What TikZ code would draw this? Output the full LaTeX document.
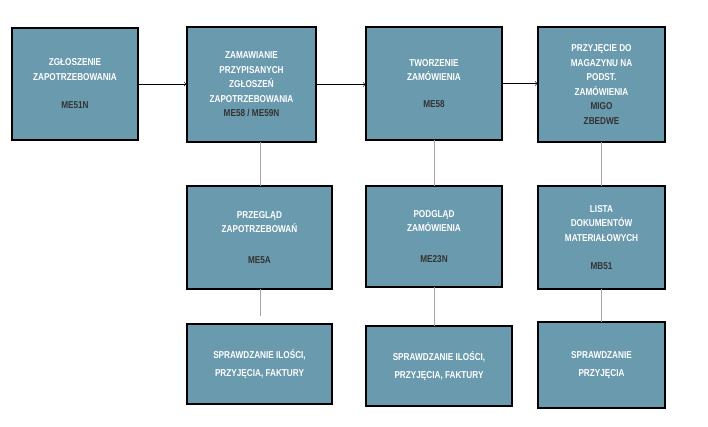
\documentclass[tikz,border=0pt]{standalone}
\usepackage{fontspec}
\setmainfont{Liberation Sans}[FakeStretch=0.82]
\begin{document}
\begin{tikzpicture}[x=1pt,y=-1pt,
 bx/.style={draw=black,line width=1.4pt,fill=boxc,inner sep=0pt,align=center,text=white,font=\bfseries\fontsize{10}{14.5}\selectfont},
 ln/.style={draw=gray!70,line width=0.8pt}]
\definecolor{boxc}{HTML}{6A9AAE}
\useasboundingbox (0,0) rectangle (708,426);
\fill[white] (0,0) rectangle (708,426);
\newcommand\bxat[6]{\node[bx,minimum width=#4-#2,minimum height=#5-#3] (#1) at ({(#2+#4)/2},{(#3+#5)/2}) {#6};}
\bxat{a}{12}{28}{138}{140}{ZGŁOSZENIE\\ZAPOTRZEBOWANIA\\[14pt]\textcolor{black!80}{ME51N}}
\bxat{b}{187}{27}{316}{142}{ZAMAWIANIE\\PRZYPISANYCH\\ZGŁOSZEŃ\\ZAPOTRZEBOWANIA\\\textcolor{black!80}{ME58 / ME59N}}
\bxat{c}{366}{27}{502}{140}{TWORZENIE\\ZAMÓWIENIA\\[12pt]\textcolor{black!80}{ME58}}
\bxat{d}{538}{27}{665}{142}{PRZYJĘCIE DO\\MAGAZYNU NA\\PODST.\\ZAMÓWIENIA\\\textcolor{black!80}{MIGO}\\\textcolor{black!80}{ZBEDWE}}
\bxat{e}{187}{186}{332}{289}{PRZEGLĄD\\ZAPOTRZEBOWAŃ\\[16pt]\textcolor{black!80}{ME5A}}
\bxat{f}{366}{186}{502}{287}{PODGLĄD\\ZAMÓWIENIA\\[16pt]\textcolor{black!80}{ME23N}}
\bxat{g}{538}{186}{665}{289}{LISTA\\DOKUMENTÓW\\MATERIAŁOWYCH\\[14pt]\textcolor{black!80}{MB51}}
\bxat{h}{187}{324}{332}{404}{SPRAWDZANIE  ILOŚCI,\\[3pt]PRZYJĘCIA,  FAKTURY}
\bxat{i}{366}{326}{512}{406}{SPRAWDZANIE ILOŚCI,\\[3pt]PRZYJĘCIA, FAKTURY}
\bxat{j}{538}{322}{665}{408}{SPRAWDZANIE\\[3pt]PRZYJĘCIA}
\draw[->,line width=0.6pt] (a.east) -- (a.east -| b.west);
\draw[->,line width=0.6pt] (b.east) -- (b.east -| c.west);
\draw[->,line width=0.6pt] (d.west |- c.east) ++(-36,0) -- (d.west |- c.east);
\draw[ln] (260,142) -- (260,186);
\draw[ln] (434,140) -- (434,186);
\draw[ln] (601,142) -- (601,186);
\coordinate (ee) at (260,316);
\draw[ln] (260,289) -- (ee);
\draw[ln] (434,287) -- (434,326);
\draw[ln] (601,289) -- (601,322);
\end{tikzpicture}
\end{document}
